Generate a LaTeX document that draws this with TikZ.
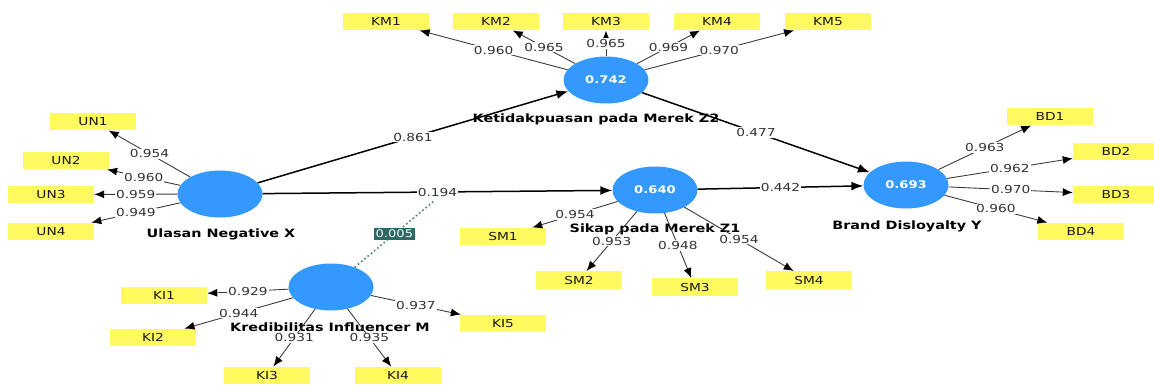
\documentclass[tikz,border=0pt]{standalone}
\usepackage{fontspec}
\setmainfont{DejaVu Sans}[FakeStretch=1.25]
\usetikzlibrary{arrows.meta,shapes.geometric,positioning}
\definecolor{LVBlue}{RGB}{51,153,255}
\definecolor{IndYellow}{RGB}{255,250,95}
\definecolor{ModTeal}{RGB}{45,105,100}
\definecolor{LoadGray}{RGB}{60,60,60}
\tikzset{
  lv/.style={ellipse,fill=LVBlue,minimum width=85pt,minimum height=47pt,inner sep=0pt,
    text=white,font=\fontsize{10.5}{12}\selectfont\bfseries},
  ind/.style={fill=IndYellow,minimum width=86pt,minimum height=17.5pt,inner sep=0pt,
    text=black!90,font=\fontsize{11}{12}\selectfont},
  lvname/.style={text=black,font=\fontsize{11.5}{13}\selectfont\bfseries},
  num/.style={fill=white,inner sep=1pt,text=black!80,font=\fontsize{11}{12}\selectfont},
  load/.style={draw=LoadGray,line width=0.9pt,-{Latex[length=10pt,width=8pt,color=black]}},
  struct/.style={line width=1.5pt,-{Latex[length=12pt,width=9pt]}},
  modline/.style={draw=ModTeal!85,line width=1.6pt,dash pattern=on 1.6pt off 2.6pt},
  modnum/.style={fill=ModTeal,text=white,inner sep=2pt,font=\fontsize{10.5}{12}\selectfont}
}
\newcommand{\loading}[3]{%
  \draw[load] (#1) -- node[num] {#3} (#2);}

\begin{document}
\begin{tikzpicture}[x=1pt,y=-1pt]
  \useasboundingbox (0,0) rectangle (1154,386);
  \node[lv] (X) at (220,194) {};
  \node[lv] (Z2) at (606,80) {0.742};
  \node[lv] (Z1) at (655,190) {0.640};
  \node[lv] (Y) at (906,185) {0.693};
  \node[lv] (M) at (331,287) {};
  \node[lvname] (Xlbl) at (221,234) {Ulasan Negative X};
  \node[lvname] (Z2lbl) at (596,119) {Ketidakpuasan pada Merek Z2};
  \node[lvname] (Z1lbl) at (655,229) {Sikap pada Merek Z1};
  \node[lvname] (Ylbl) at (907,226) {Brand Disloyalty Y};
  \node[lvname] (Mlbl) at (330,327) {Kredibilitas Influencer M};
  \foreach \n/\x/\y in {KM1/386/21.5,KM2/496/21.5,KM3/606/21.5,KM4/717/21.5,KM5/828/21.5,
      UN1/93/121.5,UN2/66/160.5,UN3/51/194.5,UN4/51/231.5,
      SM1/503/236.5,SM2/579/280,SM3/695/287,SM4/809/280,
      BD1/1050/116.5,BD2/1116/151.5,BD3/1116/194.5,BD4/1081/231.5,
      KI1/164/295.5,KI2/153/337.5,KI3/267/375.5,KI4/398/375.5,KI5/503/323.5}
    \node[ind] (\n) at (\x,\y) {\n};
  \foreach \a/\b/\v in {Z2/KM1/0.960,Z2/KM2/0.965,Z2/KM3/0.965,Z2/KM4/0.969,Z2/KM5/0.970,
      X/UN1/0.954,X/UN2/0.960,X/UN3/0.959,X/UN4/0.949,
      Z1/SM1/0.954,Z1/SM2/0.953,Z1/SM3/0.948,Z1/SM4/0.954,
      Y/BD1/0.963,Y/BD2/0.962,Y/BD3/0.970,Y/BD4/0.960,
      M/KI1/0.929,M/KI2/0.944,M/KI3/0.931,M/KI4/0.935,M/KI5/0.937}
    \loading{\a}{\b}{\v}
  \coordinate (modpt) at (434,201);
  \draw[modline] (M) -- node[modnum] {0.005} (modpt);
  \draw[struct] (X) -- node[num] {0.861} (Z2);
  \draw[struct] (X) -- node[num] {0.194} (Z1);
  \draw[struct] (Z2) -- node[num] {0.477} (Y);
  \draw[struct] (Z1) -- node[num] {0.442} (Y);
\end{tikzpicture}
\end{document}
